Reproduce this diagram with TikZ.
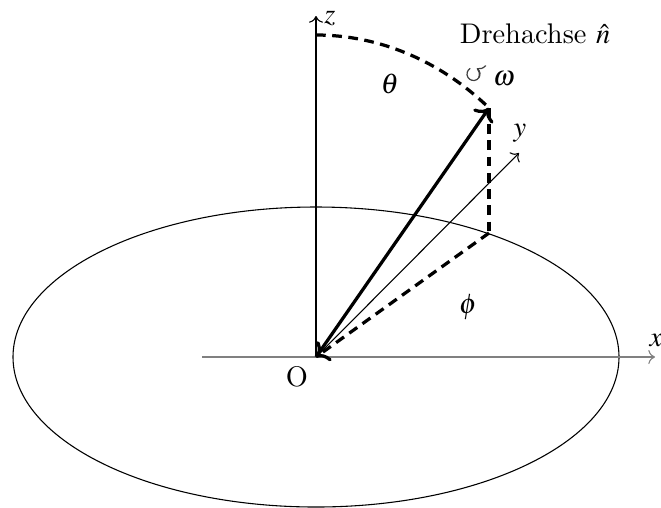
\documentclass[tikz,border=0pt]{standalone}
\usepackage{amsmath,amssymb}
\usepackage{mathptmx}
\usetikzlibrary{arrows.meta,calc}
\tikzset{
  axisline/.style={->,line width=0.4pt,draw=black},
  vecline/.style={->,line width=1.2pt,draw=black},
  guideline/.style={line width=1.2pt,dash pattern=on 3.6pt off 2.4pt,draw=black},
  spinarc/.style={->,line width=0.45pt,draw=black!75},
  lbl/.style={inner sep=1pt,font=\fontsize{10.5}{13}\selectfont}
}
\begin{document}
\begin{tikzpicture}[x=0.37pt,y=0.37pt]
  \useasboundingbox (-316,-150) rectangle (345,357);
  \coordinate (O) at (0,0);
  \coordinate (zend) at (0,341);
  \coordinate (ztop) at (0,322);
  \coordinate (xbeg) at (-114,0);
  \coordinate (xend) at (339,0);
  \coordinate (yend) at (203,204);
  \coordinate (tip) at (173,249);
  \coordinate (proj) at (173,124);
  \coordinate (spin) at (157.5,283);
  % plane and axes
  \draw[line width=0.4pt] (O) ellipse[x radius=303,y radius=150];
  \draw[axisline] (O) -- (zend);
  \draw[axisline,draw=gray] (xbeg) -- (xend);
  \draw[axisline] (O) -- (yend);
  % rotation axis and its projections
  \draw[vecline] (O) -- (tip);
  \draw[guideline] (tip) -- (proj);
  \draw[guideline,->] (proj) -- (O);
  \draw[guideline] (ztop) arc[start angle=90,end angle=50.65,x radius=273,y radius=322];
  \draw[spinarc] ($(spin)+(120:6.5)$) arc[start angle=120,end angle=420,radius=6.5];
  % labels
  \node[lbl] (zlbl) at (14,339) {$z$};
  \node[lbl] (xlbl) at (340,17) {$x$};
  \node[lbl] (ylbl) at (204,224) {$y$};
  \node[lbl] (olbl) at (-19,-20) {O};
  \node[lbl] (thetalbl) at (74,273) {$\theta$};
  \node[lbl] (philbl) at (152,50) {$\phi$};
  \node[lbl] (omegalbl) at (188,278) {$\omega$};
  \node[lbl] (axislbl) at (219,323) {Drehachse $\hat{n}$};
\end{tikzpicture}
\end{document}
